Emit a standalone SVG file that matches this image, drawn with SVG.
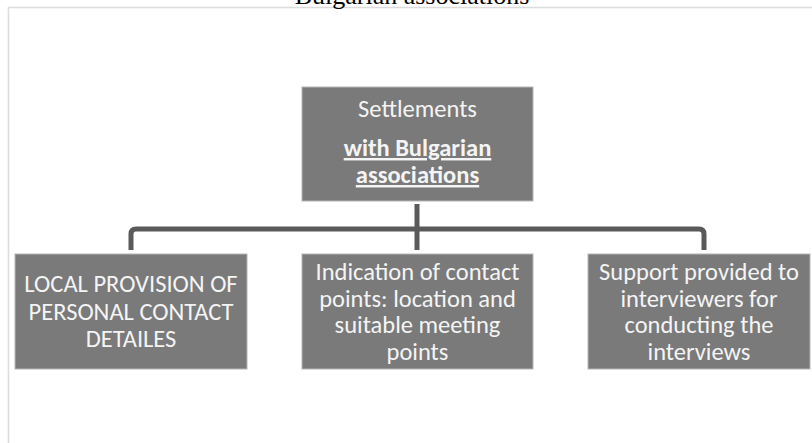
<svg xmlns="http://www.w3.org/2000/svg" width="812" height="443" viewBox="0 0 812 443">
<style>
.box{fill:#7a7a7a;stroke:#b5b5b5;stroke-width:1}
.t{font-family:Carlito,Lato,"Liberation Sans",sans-serif;font-size:24.5px;fill:#f4f4f4;text-anchor:middle}
.b{font-weight:bold;text-decoration:underline}
.conn{fill:none;stroke:#5a5a5a;stroke-width:5;stroke-linejoin:round}
.frame{stroke:#dcdcdc;stroke-width:1.5;fill:none}
</style>
<rect width="812" height="443" fill="#ffffff"/>
<path class="frame" d="M8.5,443 V7.5 H812"/>
<text x="412" y="4" font-family="'Liberation Serif',serif" font-size="26" text-anchor="middle" fill="#000">Bulgarian associations</text>
<g id="connectors">
<path class="conn" d="M417,204 V250"/>
<path class="conn" d="M131,250 V234 Q131,229 136,229 H699 Q704,229 704,234 V250"/>
</g>
<g id="settlements">
<rect class="box" x="302" y="87" width="231" height="114"/>
<text class="t" x="417.5" y="117">Settlements</text>
<text class="t b" x="417.5" y="156">with Bulgarian</text>
<text class="t b" x="417.5" y="183">associations</text>
</g>
<g id="local-provision">
<rect class="box" x="15" y="254" width="232" height="115"/>
<text class="t" x="131" y="292">LOCAL PROVISION OF</text>
<text class="t" x="131" y="320">PERSONAL CONTACT</text>
<text class="t" x="131" y="347">DETAILES</text>
</g>
<g id="indication">
<rect class="box" x="302" y="254" width="231" height="115"/>
<text class="t" x="417.5" y="280">Indication of contact</text>
<text class="t" x="417.5" y="306.5">points: location and</text>
<text class="t" x="417.5" y="333">suitable meeting</text>
<text class="t" x="417.5" y="359.5">points</text>
</g>
<g id="support">
<rect class="box" x="588" y="254" width="222" height="115"/>
<text class="t" x="699" y="280">Support provided to</text>
<text class="t" x="699" y="306.5">interviewers for</text>
<text class="t" x="699" y="333">conducting the</text>
<text class="t" x="699" y="359.5">interviews</text>
</g>
</svg>
